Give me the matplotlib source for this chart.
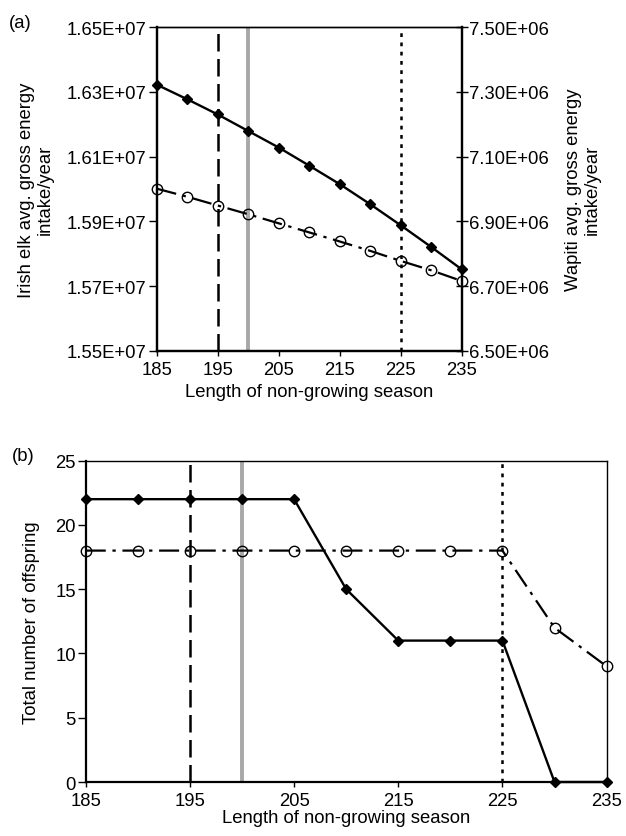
import matplotlib
matplotlib.use("Agg")
import matplotlib.pyplot as plt
from matplotlib.ticker import FuncFormatter

plt.rcParams['font.family'] = ['Liberation Sans', 'DejaVu Sans']
plt.rcParams['font.size'] = 13.3

season = [185, 190, 195, 200, 205, 210, 215, 220, 225, 230, 235]
elk_energy = [1.6322e7, 1.6277e7, 1.6230e7, 1.6179e7, 1.6128e7, 1.6072e7,
              1.6015e7, 1.5953e7, 1.5888e7, 1.5821e7, 1.5752e7]
wapiti_energy = [7.001e6, 6.976e6, 6.949e6, 6.922e6, 6.894e6, 6.866e6,
                 6.838e6, 6.809e6, 6.778e6, 6.749e6, 6.716e6]
elk_offspring = [22, 22, 22, 22, 22, 15, 11, 11, 11, 0, 0]
wapiti_offspring = [18, 18, 18, 18, 18, 18, 18, 18, 18, 12, 9]
xticks = [185, 195, 205, 215, 225, 235]
vlines = [195, 200, 225]

fig = plt.figure(figsize=(6.26, 8.37), dpi=100)

ax1 = fig.add_axes([0.2505, 0.5795, 0.487, 0.387])
ax2 = ax1.twinx()
axb = fig.add_axes([0.137, 0.0645, 0.832, 0.384])

dash_ls = (0, (9, 3, 1.5, 3))
vstyles = [dict(color='black', lw=1.8, ls=(0, (7, 3))),
           dict(color='#a8a8a8', lw=2.8, ls='-'),
           dict(color='black', lw=1.8, ls=(0, (1.5, 2.2)))]

def draw_vlines(ax):
    for xv, st in zip(vlines, vstyles):
        ax.axvline(xv, zorder=1, **st)

# Top chart
draw_vlines(ax1)
ax1.plot(season, elk_energy, color='black', lw=1.7, marker='D', ms=5.5,
         mfc='black', mec='black', zorder=3, clip_on=False)
ax2.plot(season, wapiti_energy, color='black', lw=1.6, ls=dash_ls, marker='o',
         ms=7.5, mfc='none', mec='black', mew=1.0, zorder=3, clip_on=False)
ax1.set_xlim(185, 235)
ax1.set_ylim(1.55e7, 1.65e7)
ax2.set_ylim(6.5e6, 7.5e6)
ax1.set_yticks([1.55e7, 1.57e7, 1.59e7, 1.61e7, 1.63e7, 1.65e7])
ax2.set_yticks([6.5e6, 6.7e6, 6.9e6, 7.1e6, 7.3e6, 7.5e6])
fmt = FuncFormatter(lambda v, p: f"{v:.2E}")
ax1.yaxis.set_major_formatter(fmt)
ax2.yaxis.set_major_formatter(fmt)
ax1.set_xticks(xticks)
ax1.set_xlabel("Length of non-growing season", labelpad=4)
ax1.set_ylabel("Irish elk avg. gross energy\nintake/year", labelpad=9)
ax2.set_ylabel("Wapiti avg. gross energy\nintake/year", labelpad=11)
ax1.tick_params(axis='y', direction='out', length=6, width=1, pad=1.5)
ax1.tick_params(axis='x', direction='out', length=3.6, width=1, pad=3.5)
ax2.tick_params(axis='y', direction='inout', length=8, width=1, pad=1.5)
for ax in (ax1, ax2):
    for s in ('left', 'right', 'bottom'):
        ax.spines[s].set_linewidth(1.6)
    ax.spines['top'].set_linewidth(1.0)
fig.text(9 / 626, 1 - 28 / 837, "(a)", fontsize=13.3, va='baseline', ha='left')

# Bottom chart
draw_vlines(axb)
axb.plot(season, elk_offspring, color='black', lw=1.7, marker='D', ms=5.5,
         mfc='black', mec='black', zorder=3, clip_on=False)
axb.plot(season, wapiti_offspring, color='black', lw=1.6, ls=dash_ls, marker='o',
         ms=7.5, mfc='none', mec='black', mew=1.0, zorder=3, clip_on=False)
axb.set_xlim(185, 235)
axb.set_ylim(0, 25)
axb.set_xticks(xticks)
axb.set_yticks([0, 5, 10, 15, 20, 25])
axb.set_xlabel("Length of non-growing season", labelpad=0)
axb.set_ylabel("Total number of offspring", labelpad=11)
axb.tick_params(axis='y', direction='out', length=6, width=1, pad=1)
axb.tick_params(axis='x', direction='out', length=3.6, width=1, pad=3.5)
for s in ('left', 'bottom'):
    axb.spines[s].set_linewidth(1.6)
for s in ('top', 'right'):
    axb.spines[s].set_linewidth(1.0)
fig.text(12 / 626, 1 - 461 / 837, "(b)", fontsize=13.3, va='baseline', ha='left')

fig.savefig("out.png", dpi=100)
